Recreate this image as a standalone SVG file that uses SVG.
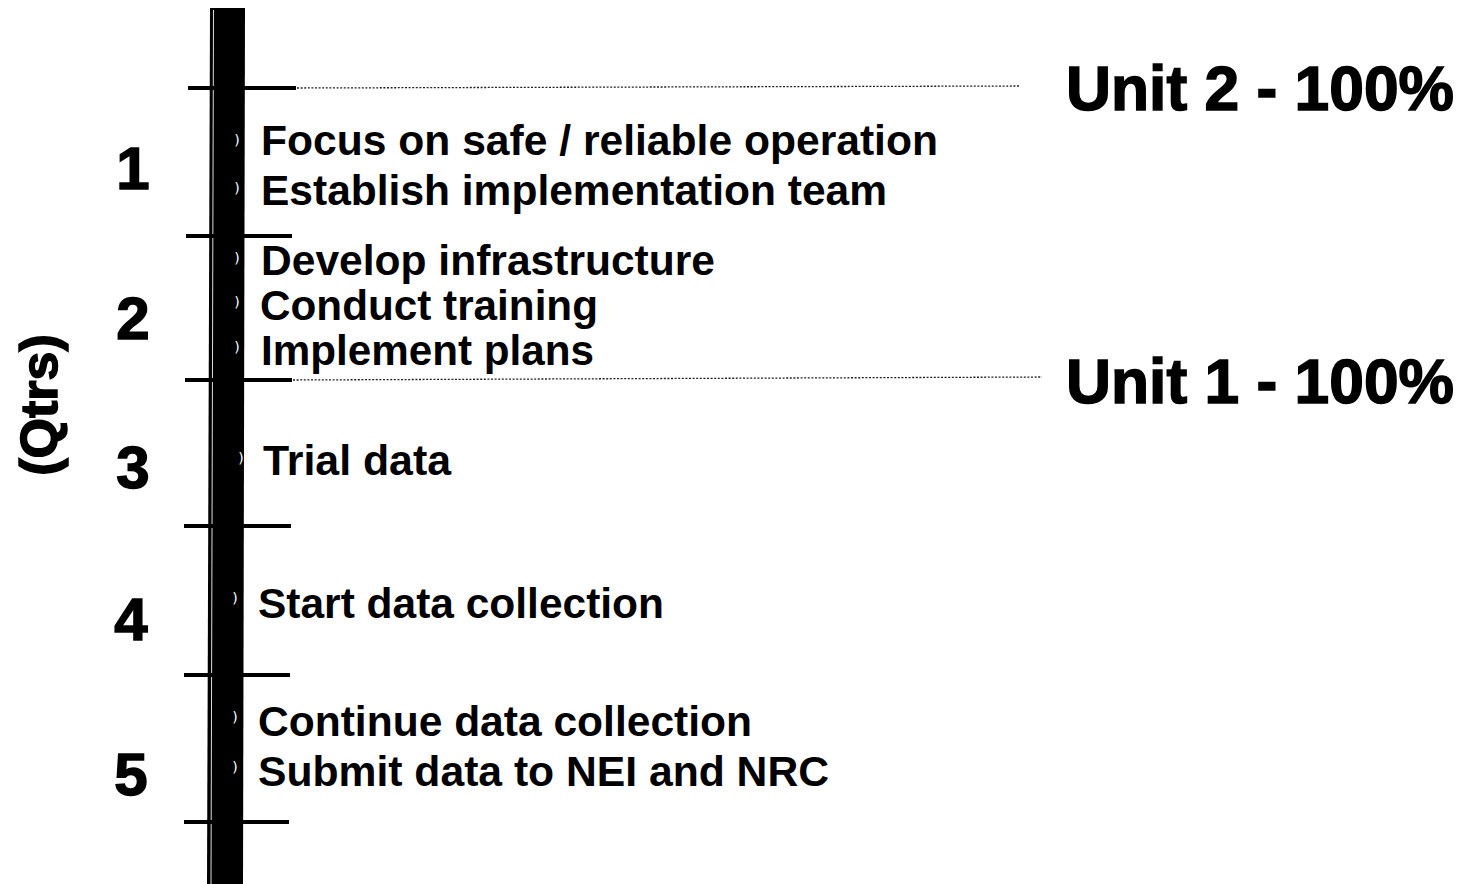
<svg xmlns="http://www.w3.org/2000/svg" width="1465" height="884" viewBox="0 0 1465 884">
<style>
.item{font-family:"Liberation Sans",Arial,sans-serif;font-weight:bold;font-size:43px;fill:#000;}
.num{font-family:"Liberation Sans",Arial,sans-serif;font-weight:bold;font-size:60px;fill:#000;stroke:#000;stroke-width:1.5px;text-anchor:middle;}
.unit{font-family:"Liberation Sans",Arial,sans-serif;font-weight:bold;font-size:63px;fill:#000;stroke:#000;stroke-width:1.5px;}
.bul{font-family:"DejaVu Sans",sans-serif;font-size:14px;fill:#fff;text-anchor:middle;}
.tick{stroke:#000;stroke-width:4;fill:none;}
.dot{stroke:#222;stroke-width:1.3;stroke-dasharray:2 1.6;fill:none;}
</style>
<rect width="1465" height="884" fill="#fff"/>
<g id="timeline-bar">
<polygon points="210,8 245,8 243,884 207,884" fill="#000"/>
<line x1="213.5" y1="10" x2="211" y2="884" stroke="#ddd" stroke-width="1"/>
</g>
<g id="connectors">
<line class="tick" x1="188" y1="88" x2="296" y2="88"/>
<line class="tick" x1="186" y1="236" x2="292" y2="236"/>
<line class="tick" x1="185" y1="380" x2="292" y2="380"/>
<line class="tick" x1="184" y1="526" x2="291" y2="526"/>
<line class="tick" x1="184" y1="675" x2="290" y2="675"/>
<line class="tick" x1="184" y1="822" x2="289" y2="822"/>
<line class="dot" x1="297" y1="88" x2="1020" y2="86"/>
<line class="dot" x1="293" y1="380" x2="1042" y2="377"/>
</g>
<g id="axis-label">
<text class="num" style="font-size:52px" transform="rotate(-90 57 405)" x="57" y="405">(Qtrs)</text>
</g>
<g id="quarter-1">
<text class="num" x="133" y="189">1</text>
<text class="bul" x="237" y="145">)</text>
<text class="bul" x="237" y="193">)</text>
<text class="item" x="261" y="155" textLength="677" lengthAdjust="spacingAndGlyphs">Focus on safe / reliable operation</text>
<text class="item" x="261" y="205" textLength="626" lengthAdjust="spacingAndGlyphs">Establish implementation team</text>
</g>
<g id="quarter-2">
<text class="num" x="133" y="339">2</text>
<text class="bul" x="237" y="263">)</text>
<text class="bul" x="237" y="307">)</text>
<text class="bul" x="237" y="352">)</text>
<text class="item" x="261" y="275" textLength="454" lengthAdjust="spacingAndGlyphs">Develop infrastructure</text>
<text class="item" x="260" y="320" textLength="338" lengthAdjust="spacingAndGlyphs">Conduct training</text>
<text class="item" x="261" y="365" textLength="333" lengthAdjust="spacingAndGlyphs">Implement plans</text>
</g>
<g id="quarter-3">
<text class="num" x="133" y="488">3</text>
<text class="bul" x="241" y="463">)</text>
<text class="item" x="263" y="475" textLength="188" lengthAdjust="spacingAndGlyphs">Trial data</text>
</g>
<g id="quarter-4">
<text class="num" x="131" y="640">4</text>
<text class="bul" x="235" y="603">)</text>
<text class="item" x="258" y="618" textLength="406" lengthAdjust="spacingAndGlyphs">Start data collection</text>
</g>
<g id="quarter-5">
<text class="num" x="131" y="795">5</text>
<text class="bul" x="235" y="722">)</text>
<text class="bul" x="235" y="772">)</text>
<text class="item" x="258" y="736" textLength="494" lengthAdjust="spacingAndGlyphs">Continue data collection</text>
<text class="item" x="258" y="786" textLength="571" lengthAdjust="spacingAndGlyphs">Submit data to NEI and NRC</text>
</g>
<g id="unit-2">
<text class="unit" x="1066" y="110" textLength="388" lengthAdjust="spacingAndGlyphs">Unit 2 - 100%</text>
</g>
<g id="unit-1">
<text class="unit" x="1066" y="403" textLength="388" lengthAdjust="spacingAndGlyphs">Unit 1 - 100%</text>
</g>
</svg>
